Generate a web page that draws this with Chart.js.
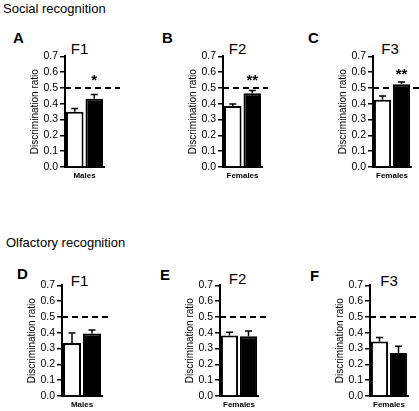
<!DOCTYPE html>
<html><head><meta charset="utf-8">
<script src="https://cdn.jsdelivr.net/npm/chart.js@4.4.1/dist/chart.umd.min.js"></script>
<style>
html,body{margin:0;padding:0;background:#fff;width:419px;height:411px;overflow:hidden;position:relative;font-family:Arial,"Liberation Sans",sans-serif;}
.t{position:absolute;white-space:nowrap;color:#000;line-height:1;}
.sec{font-size:13px;}
.let{font-size:15px;font-weight:bold;}
.ttl{font-size:15px;width:60px;text-align:center;}
canvas{position:absolute;}
</style></head><body>
<script>
// ---------- data ----------
const sections = ['Social recognition', 'Olfactory recognition'];
const panelLetters = ['A', 'B', 'C', 'D', 'E', 'F'];
const panelTitles = ['F1', 'F2', 'F3', 'F1', 'F2', 'F3'];
const categories = ['Males', 'Females', 'Females', 'Males', 'Females', 'Females'];
const whiteMeans = [0.350, 0.385, 0.425, 0.335, 0.383, 0.345];
const whiteSEM   = [0.020, 0.013, 0.024, 0.063, 0.020, 0.025];
const blackMeans = [0.432, 0.467, 0.524, 0.396, 0.378, 0.272];
const blackSEM   = [0.026, 0.017, 0.013, 0.022, 0.033, 0.043];
const significance = ['*', '**', '**', '', '', ''];
const yTicks = [0.0, 0.1, 0.2, 0.3, 0.4, 0.5, 0.6, 0.7];
const chanceLevel = 0.5;
const yAxisTitle = 'Discrimination ratio';

// ---------- layout (page pixels) ----------
const sectionPos = [{x:3, y:2}, {x:6, y:236}];
const layout = [
  {axisX:65,  top:56,  bottom:167, right:104, dashEnd:120, lx:13,  ly:30,  tcx:79.5,  ty:41},
  {axisX:223, top:56,  bottom:167, right:262, dashEnd:268, lx:162, ly:30,  tcx:237.5, ty:41},
  {axisX:373, top:56,  bottom:167, right:411, dashEnd:419, lx:308, ly:30,  tcx:390,   ty:41},
  {axisX:62,  top:285, bottom:396, right:102, dashEnd:111, lx:17,  ly:266, tcx:79.5,  ty:273},
  {axisX:220, top:285, bottom:396, right:258, dashEnd:266, lx:160, ly:267, tcx:237.5, ty:271},
  {axisX:370, top:285, bottom:396, right:408, dashEnd:419, lx:310, ly:268, tcx:389,   ty:273}
];
const YW = 42, PADT = 8, XH = 20;

Chart.defaults.font.family = 'Arial, "Liberation Sans", sans-serif';
Chart.defaults.color = '#000';

function addText(cls, txt, x, y) {
  const d = document.createElement('div');
  d.className = 't ' + cls;
  d.textContent = txt;
  d.style.left = x + 'px';
  d.style.top = y + 'px';
  document.body.appendChild(d);
  return d;
}
sections.forEach((s, i) => addText('sec', s, sectionPos[i].x, sectionPos[i].y));

const deco = {
  id: 'deco',
  afterDatasetsDraw(chart, args, opts) {
    const ctx = chart.ctx, y = chart.scales.y;
    ctx.save();
    ctx.strokeStyle = '#000';
    chart.data.datasets.forEach((ds, di) => {
      const el = chart.getDatasetMeta(di).data[0];
      const top = y.getPixelForValue(ds.data[0] + ds.sem[0]);
      ctx.lineWidth = 1.5;
      ctx.beginPath();
      ctx.moveTo(el.x, el.y);
      ctx.lineTo(el.x, top);
      ctx.moveTo(el.x - 3.5, top);
      ctx.lineTo(el.x + 3.5, top);
      ctx.stroke();
    });
    const yp = y.getPixelForValue(opts.value);
    ctx.setLineDash([6, 4]);
    ctx.lineWidth = 2;
    ctx.beginPath();
    ctx.moveTo(chart.chartArea.left, yp);
    ctx.lineTo(chart.width, yp);
    ctx.stroke();
    ctx.setLineDash([]);
    if (opts.stars) {
      const ds = chart.data.datasets[1];
      const el = chart.getDatasetMeta(1).data[0];
      const errTop = y.getPixelForValue(ds.data[0] + ds.sem[0]);
      const center = Math.min(errTop, yp) - 11.5;
      ctx.fillStyle = '#000';
      ctx.font = 'bold 15px Arial, "Liberation Sans", sans-serif';
      ctx.textAlign = 'center';
      ctx.textBaseline = 'alphabetic';
      ctx.fillText(opts.stars, el.x, center + 8.5);
    }
    ctx.restore();
  }
};

layout.forEach((L, i) => {
  addText('let', panelLetters[i], L.lx, L.ly);
  addText('ttl', panelTitles[i], L.tcx - 30, L.ty);
  const cv = document.createElement('canvas');
  const w = (L.dashEnd - L.axisX) + YW;
  const h = (L.bottom - L.top) + PADT + XH;
  cv.width = w; cv.height = h;
  cv.style.width = w + 'px'; cv.style.height = h + 'px';
  cv.style.left = (L.axisX - YW) + 'px';
  cv.style.top = (L.top - PADT) + 'px';
  document.body.appendChild(cv);
  const padR = w - YW - (L.right - L.axisX);
  new Chart(cv, {
    type: 'bar',
    data: {
      labels: [categories[i]],
      datasets: [
        {data: [whiteMeans[i]], sem: [whiteSEM[i]], backgroundColor: '#fff', borderColor: '#000', borderWidth: 2},
        {data: [blackMeans[i]], sem: [blackSEM[i]], backgroundColor: '#000', borderColor: '#000', borderWidth: 2}
      ]
    },
    options: {
      responsive: false, animation: false, devicePixelRatio: 1,
      layout: {padding: {top: PADT, right: padR, left: 0, bottom: 0}},
      datasets: {bar: {categoryPercentage: 1, barPercentage: 0.9}},
      plugins: {
        legend: {display: false}, tooltip: {enabled: false},
        deco: {value: chanceLevel, stars: significance[i]}
      },
      scales: {
        x: {
          grid: {display: false, drawTicks: false},
          border: {display: true, color: '#000', width: 2},
          ticks: {font: {size: 8, weight: 'bold'}, color: '#000', padding: 4},
          afterFit: s => { s.height = XH; }
        },
        y: {
          min: 0, max: 0.7,
          afterBuildTicks: s => { s.ticks = yTicks.map(v => ({value: v})); },
          ticks: {callback: v => Number(v).toFixed(1), font: {size: 10.5}, color: '#000', padding: 2},
          grid: {drawOnChartArea: false, tickLength: 5, color: '#000', lineWidth: 1.5},
          border: {display: true, color: '#000', width: 2},
          title: {display: true, text: yAxisTitle, font: {size: 10}, color: '#000', padding: {top: 6, bottom: 0}},
          afterFit: s => { s.width = YW; }
        }
      }
    },
    plugins: [deco]
  });
});
</script>
</body></html>
